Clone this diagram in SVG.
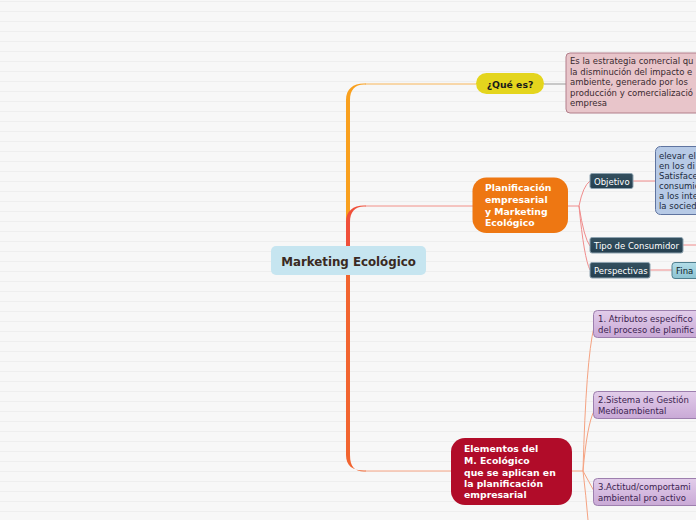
<svg xmlns="http://www.w3.org/2000/svg" width="696" height="520" viewBox="0 0 696 520">
<defs>
<pattern id="bg" x="0" y="0" width="10" height="10" patternUnits="userSpaceOnUse">
<rect width="10" height="10" fill="#f7f7f7"/>
<rect y="1" width="10" height="1" fill="#eeeeee"/>
</pattern>
<linearGradient id="purp" x1="0" y1="0" x2="0" y2="1">
<stop offset="0" stop-color="#e2cdea"/>
<stop offset="1" stop-color="#c9a9d6"/>
</linearGradient>
<linearGradient id="teal" x1="0" y1="0" x2="0" y2="1">
<stop offset="0" stop-color="#b3dde8"/>
<stop offset="1" stop-color="#8cc3d2"/>
</linearGradient>
<linearGradient id="slate" x1="0" y1="0" x2="0" y2="1">
<stop offset="0" stop-color="#34505f"/>
<stop offset="1" stop-color="#253f4f"/>
</linearGradient>
</defs>
<style>
text{font-family:"DejaVu Sans","Verdana",sans-serif;}
.bold{font-weight:bold;}
.w{fill:#ffffff;}
.sm{font-size:8.5px;}
.big{font-size:9.3px;font-weight:bold;}
.thin{fill:none;stroke-width:1;}
.tag rect{fill:url(#slate);stroke:#8ea3b0;stroke-width:1;}
.tag text{fill:#ffffff;font-size:8.5px;}
.purple rect{fill:url(#purp);stroke:#9d7fae;stroke-width:1;}
.purple text{fill:#3b2350;font-size:8.5px;}
</style>
<rect width="696" height="520" fill="url(#bg)"/>

<g id="connectors">
<path d="M346,250 V100 C346,89 353,83.5 364,83.5 H366 V84.5 H364 C355,84.5 350,90 350,100 V250 Z" fill="#f9a01e"/>
<path d="M365,84 H476" class="thin" stroke="#f8b65a"/>
<path d="M346,246 V222 C346,211 353,205.5 364,205.5 H366 V206.5 H364 C355,206.5 350,212 350,222 V246 Z" fill="#f0503a"/>
<path d="M365,206 H473" class="thin" stroke="#f29088"/>
<path d="M346,275 V455 C346,466 353,470.5 364,470.5 H366 V471.5 H364 C355,471.5 350,467 350,455 V275 Z" fill="#f2642f"/>
<path d="M365,471 H451" class="thin" stroke="#f7a585"/>
<path d="M544,84 H566" class="thin" stroke="#999999"/>
<g class="thin" stroke="#f08c8c">
<path d="M568,206 H579"/>
<path d="M579,206 Q583,186 590,181"/>
<path d="M579,206 Q584,238 590,246"/>
<path d="M579,206 Q584,258 590,270"/>
<path d="M633,181 H655"/>
<path d="M683,245 H696"/>
<path d="M650,270 H672"/>
</g>
<g class="thin" stroke="#f5a382">
<path d="M572,471 H583"/>
<path d="M583,471 Q586,360 594,327"/>
<path d="M583,471 Q587,425 594,411"/>
<path d="M583,471 Q589,482 594,491"/>
<path d="M583,471 Q586,496 588,520"/>
</g>
</g>

<g id="central">
<rect x="271" y="246" width="155" height="29" rx="5" fill="#c6e5f0"/>
<text x="348.5" y="266" text-anchor="middle" class="bold" font-size="11.8" fill="#3a2a22">Marketing Ecológico</text>
</g>

<g id="quees">
<rect x="476" y="73" width="68" height="21" rx="10.5" fill="#e4d51d"/>
<text x="510" y="87.5" text-anchor="middle" class="big" fill="#1a1a1a">¿Qué es?</text>
</g>

<g id="definicion">
<rect x="566" y="53" width="200" height="60" rx="4" fill="#e8c5ca" stroke="#b27f8b" stroke-width="1"/>
<g class="sm" fill="#3a2a30">
<text x="570" y="64">Es la estrategia comercial qu</text>
<text x="570" y="74.5">la disminución del impacto e</text>
<text x="570" y="85">ambiente, generado por los</text>
<text x="570" y="95.5">producción y comercializació</text>
<text x="570" y="106">empresa</text>
</g>
</g>

<g id="planificacion">
<rect x="472.5" y="177.5" width="95.5" height="55.5" rx="14" fill="#ee7712"/>
<g class="big w">
<text x="485" y="191">Planificación</text>
<text x="485" y="203">empresarial</text>
<text x="485" y="215">y Marketing</text>
<text x="485" y="226">Ecológico</text>
</g>
</g>

<g id="objetivo" class="tag">
<rect x="590" y="173.5" width="43" height="15" rx="2"/>
<text x="594" y="184.5">Objetivo</text>
</g>

<g id="objetivo-texto">
<rect x="655.5" y="146.5" width="100" height="68" rx="5" fill="#b7cae6" stroke="#5f74a0" stroke-width="1"/>
<g class="sm" fill="#1c2a40">
<text x="659" y="158.5">elevar el</text>
<text x="659" y="168.6">en los di</text>
<text x="659" y="178.7">Satisface</text>
<text x="659" y="188.8">consumid</text>
<text x="659" y="198.9">a los inte</text>
<text x="659" y="209">la socied</text>
</g>
</g>

<g id="tipo" class="tag">
<rect x="590" y="237.5" width="93" height="15.5" rx="2"/>
<text x="594" y="248.5">Tipo de Consumidor</text>
</g>

<g id="perspectivas" class="tag">
<rect x="590" y="262.5" width="60" height="15.5" rx="2"/>
<text x="594" y="273.5">Perspectivas</text>
</g>

<g id="fina">
<rect x="672" y="262.5" width="60" height="16" rx="3" fill="url(#teal)" stroke="#4f7f8f" stroke-width="1"/>
<text x="676" y="274" class="sm" fill="#10202a">Fina</text>
</g>

<g id="elementos">
<rect x="451" y="438" width="121" height="67" rx="14" fill="#b10c29"/>
<g class="big w">
<text x="464" y="452">Elementos del</text>
<text x="464" y="464">M. Ecológico</text>
<text x="464" y="476">que se aplican en</text>
<text x="464" y="487">la planificación</text>
<text x="464" y="498">empresarial</text>
</g>
</g>

<g id="atributos" class="purple">
<rect x="593.5" y="310.5" width="150" height="27" rx="4"/>
<text x="598" y="322">1. Atributos específico</text>
<text x="598" y="333">del proceso de planific</text>
</g>

<g id="sistema" class="purple">
<rect x="593.5" y="391.5" width="150" height="27" rx="4"/>
<text x="598" y="403">2.Sistema de Gestión</text>
<text x="598" y="414">Medioambiental</text>
</g>

<g id="actitud" class="purple">
<rect x="593.5" y="478.5" width="150" height="27" rx="4"/>
<text x="598" y="490">3.Actitud/comportami</text>
<text x="598" y="501">ambiental pro activo</text>
</g>
</svg>
